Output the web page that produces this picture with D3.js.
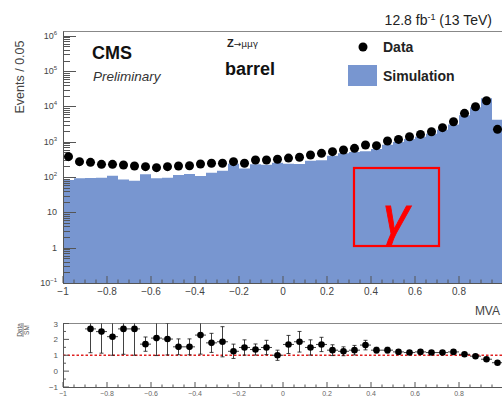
<!DOCTYPE html>
<html>
<head>
<meta charset="utf-8">
<script src="https://cdn.jsdelivr.net/npm/d3@7"></script>
<style>
  body { margin: 0; background: #fff; }
  text { font-family: "Liberation Sans", Arial, sans-serif; }
</style>
</head>
<body>
<div id="chart"></div>
<script>
// MVA bin centres (bin width 0.05)
const binCenters = [-0.975, -0.925, -0.875, -0.825, -0.775, -0.725, -0.675, -0.625, -0.575, -0.525,
                    -0.475, -0.425, -0.375, -0.325, -0.275, -0.225, -0.175, -0.125, -0.075, -0.025,
                     0.025,  0.075,  0.125,  0.175,  0.225,  0.275,  0.325,  0.375,  0.425,  0.475,
                     0.525,  0.575,  0.625,  0.675,  0.725,  0.775,  0.825,  0.875,  0.925,  0.975];
const dataCounts = [379, 273, 262, 230, 230, 220, 206, 197, 185, 197,
                    206, 210, 235, 246, 246, 273, 246, 305, 305, 319,
                    345, 364, 423, 471, 525, 586, 653, 811, 776, 1050,
                    1170, 1390, 1620, 1930, 2510, 3690, 6380, 9800, 14500, 2250];
const simCounts = [83, 92, 95, 96, 110, 86, 79, 120, 92, 96,
                   115, 122, 107, 133, 150, 240, 175, 230, 225, 255,
                   240, 235, 290, 300, 400, 470, 510, 540, 620, 820,
                   980, 1200, 1380, 1700, 2200, 3100, 5600, 9500, 17000, 4200];

// ratio panel (first two bins are off scale)
const ratioCenters = [-0.875, -0.825, -0.775, -0.725, -0.675, -0.625, -0.575, -0.525, -0.475, -0.425,
                      -0.375, -0.325, -0.275, -0.225, -0.175, -0.125, -0.075, -0.025,  0.025,  0.075,
                       0.125,  0.175,  0.225,  0.275,  0.325,  0.375,  0.425,  0.475,  0.525,  0.575,
                       0.625,  0.675,  0.725,  0.775,  0.825,  0.875,  0.925,  0.975];
const ratioValues = [2.66, 2.49, 2.17, 2.66, 2.66, 1.70, 2.08, 2.02, 1.53, 1.53,
                     2.27, 1.78, 1.85, 1.25, 1.49, 1.36, 1.49, 1.00, 1.68, 1.85,
                     1.49, 1.68, 1.32, 1.25, 1.32, 1.64, 1.32, 1.32, 1.21, 1.17,
                     1.21, 1.17, 1.17, 1.21, 1.06, 0.94, 0.75, 0.53];
const ratioErrors = [1.5, 1.36, 1.17, 1.6, 1.66, 0.45, 1.1, 1.0, 0.5, 0.5,
                     1.2, 0.6, 0.95, 0.45, 0.48, 0.35, 0.45, 0.32, 0.57, 0.65,
                     0.48, 0.45, 0.34, 0.28, 0.3, 0.3, 0.18, 0.18, 0.1, 0.08,
                     0.08, 0.06, 0.05, 0.05, 0.04, 0.03, 0.03, 0.03];

const xMajorTicks = [-1, -0.8, -0.6, -0.4, -0.2, 0, 0.2, 0.4, 0.6, 0.8];
const xTickLabels = ["\u22121", "\u22120.8", "\u22120.6", "\u22120.4", "\u22120.2", "0", "0.2", "0.4", "0.6", "0.8"];
const yMajorTicks = [0.1, 1, 10, 100, 1e3, 1e4, 1e5, 1e6];
const yTickBase = ["10", "1", "10", "10", "10", "10", "10", "10"];
const yTickExp = ["\u22121", "", "", "2", "3", "4", "5", "6"];
const ratioTicks = [-1, 0, 1, 2, 3];
const ratioTickLabels = ["\u22121", "0", "1", "2", "3"];

const W = 502, H = 397;
const svg = d3.select("#chart").append("svg").attr("width", W).attr("height", H);

const x = d3.scaleLinear().domain([-1, 1]).range([63, 503]);
const y = d3.scaleLog().domain([0.1, 1.33e6]).range([283, 31.5]);
const yr = d3.scaleLinear().domain([-1, 3]).range([387, 323.5]);

const half = 0.025;
const axisCol = "#555";
const labelCol = "#444";

svg.append("clipPath").attr("id", "mainClip")
  .append("rect").attr("x", 63).attr("y", 31.5).attr("width", W - 63).attr("height", 283 - 31.5);
svg.append("clipPath").attr("id", "ratioClip")
  .append("rect").attr("x", 63).attr("y", 323.5).attr("width", W - 63).attr("height", 387 - 323.5);

// ---------- main panel ----------
const main = svg.append("g");

// simulation histogram
const stepPts = binCenters.map((c, i) => [c - half, simCounts[i]]);
stepPts.push([binCenters[binCenters.length - 1] + half, simCounts[simCounts.length - 1]]);
main.append("path")
  .datum(stepPts)
  .attr("clip-path", "url(#mainClip)")
  .attr("fill", "#7896d0")
  .attr("d", d3.area().curve(d3.curveStepAfter).x(d => x(d[0])).y0(283).y1(d => y(d[1])));

// frame
main.append("line").attr("x1", 63).attr("x2", W).attr("y1", 31.5).attr("y2", 31.5).attr("stroke", "#888");
main.append("line").attr("x1", 63.5).attr("x2", 63.5).attr("y1", 31.5).attr("y2", 283).attr("stroke", axisCol);
main.append("line").attr("x1", 63).attr("x2", W).attr("y1", 283.5).attr("y2", 283.5).attr("stroke", axisCol);

// x ticks (inside)
const xMinor = d3.range(-1, 1.0001, 0.05).map(v => +v.toFixed(2));
main.selectAll(".xminor").data(xMinor).enter().append("line")
  .attr("x1", d => x(d)).attr("x2", d => x(d))
  .attr("y1", 283).attr("y2", d => xMajorTicks.some(t => Math.abs(t - d) < 1e-6) ? 276 : 279.5)
  .attr("stroke", axisCol);
main.selectAll(".xlab").data(xMajorTicks).enter().append("text")
  .attr("x", d => x(d)).attr("y", 295)
  .attr("text-anchor", "middle").attr("font-size", 10).attr("fill", labelCol)
  .text((d, i) => xTickLabels[i]);

// y ticks (log, inside)
const yMinor = [];
for (let e = -1; e <= 5; e++) for (let m = 1; m <= 9; m++) yMinor.push(m * Math.pow(10, e));
yMinor.push(1e6);
main.selectAll(".yminor").data(yMinor).enter().append("line")
  .attr("x1", 63).attr("x2", (d, i) => i % 9 === 0 ? 76 : 70)
  .attr("y1", d => Math.round(y(d)) + 0.5).attr("y2", d => Math.round(y(d)) + 0.5)
  .attr("stroke", axisCol);
const yl = main.selectAll(".ylab").data(yMajorTicks).enter().append("text")
  .attr("x", 57).attr("y", d => y(d) + 3)
  .attr("text-anchor", "end").attr("font-size", 9).attr("fill", labelCol);
yl.append("tspan").text((d, i) => yTickBase[i]);
yl.append("tspan").attr("dy", -4).attr("font-size", 6).text((d, i) => yTickExp[i]);

// data points
main.selectAll(".pt").data(binCenters).enter().append("circle")
  .attr("clip-path", "url(#mainClip)")
  .attr("cx", d => x(d)).attr("cy", (d, i) => y(dataCounts[i]))
  .attr("r", 4.5).attr("fill", "#000");

// titles
svg.append("text").attr("transform", "translate(24,77) rotate(-90)")
  .attr("text-anchor", "middle").attr("font-size", 12.5).attr("fill", labelCol).text("Events / 0.05");
svg.append("text").attr("x", 92).attr("y", 59).attr("font-size", 18).attr("font-weight", "bold").attr("fill", "#111").text("CMS");
svg.append("text").attr("x", 93).attr("y", 81).attr("font-size", 13.5).attr("font-style", "italic").attr("fill", "#333").text("Preliminary");
const zt = svg.append("text").attr("x", 227).attr("y", 47).attr("fill", "#222");
zt.append("tspan").attr("font-size", 11).attr("font-weight", "bold").text("Z");
zt.append("tspan").attr("font-size", 9).attr("font-family", "DejaVu Sans, sans-serif").text("\u2192\u03bc\u03bc\u03b3");
svg.append("text").attr("x", 225).attr("y", 75).attr("font-size", 18).attr("font-weight", "bold").attr("fill", "#111").text("barrel");
const lumi = svg.append("text").attr("x", 492).attr("y", 25).attr("text-anchor", "end").attr("font-size", 14).attr("fill", "#222");
lumi.append("tspan").text("12.8 fb");
lumi.append("tspan").attr("dy", -5).attr("font-size", 9).text("-1");
lumi.append("tspan").attr("dy", 5).text(" (13 TeV)");

// legend
svg.append("circle").attr("cx", 363).attr("cy", 47).attr("r", 4.5).attr("fill", "#000");
svg.append("text").attr("x", 383).attr("y", 52).attr("font-size", 14).attr("font-weight", "bold").attr("fill", "#222").text("Data");
svg.append("rect").attr("x", 348).attr("y", 65).attr("width", 29).attr("height", 21).attr("fill", "#7896d0");
svg.append("text").attr("x", 383).attr("y", 81).attr("font-size", 14).attr("font-weight", "bold").attr("fill", "#222").text("Simulation");

// red gamma box
svg.append("rect").attr("x", 354).attr("y", 168).attr("width", 85).attr("height", 78)
  .attr("fill", "none").attr("stroke", "#f00").attr("stroke-width", 2.2);
svg.append("text").attr("x", 396).attr("y", 234).attr("text-anchor", "middle")
  .attr("font-family", "Liberation Serif, Times New Roman, serif").attr("font-style", "italic")
  .attr("font-size", 52).attr("fill", "#f00").attr("stroke", "#f00").attr("stroke-width", 0.9)
  .text("\u03b3");

svg.append("text").attr("x", 500).attr("y", 315).attr("text-anchor", "end")
  .attr("font-size", 12).attr("fill", labelCol).text("MVA");

// ---------- ratio panel ----------
const rp = svg.append("g");
rp.append("line").attr("x1", 63).attr("x2", W).attr("y1", 323.5).attr("y2", 323.5).attr("stroke", "#888");
rp.append("line").attr("x1", 63.5).attr("x2", 63.5).attr("y1", 323.5).attr("y2", 387).attr("stroke", axisCol);
rp.append("line").attr("x1", 63).attr("x2", W).attr("y1", 387.5).attr("y2", 387.5).attr("stroke", axisCol);

rp.append("line").attr("x1", 63).attr("x2", W).attr("y1", yr(1)).attr("y2", yr(1))
  .attr("stroke", "#e02020").attr("stroke-width", 1.5).attr("stroke-dasharray", "2.5,2");

rp.selectAll(".rxminor").data(xMinor).enter().append("line")
  .attr("x1", d => x(d)).attr("x2", d => x(d))
  .attr("y1", 387).attr("y2", d => xMajorTicks.some(t => Math.abs(t - d) < 1e-6) ? 382 : 384.5)
  .attr("stroke", axisCol);
rp.selectAll(".rxlab").data(xMajorTicks).enter().append("text")
  .attr("x", d => x(d)).attr("y", 396)
  .attr("text-anchor", "middle").attr("font-size", 7).attr("fill", "#666")
  .text((d, i) => xTickLabels[i]);

const ryMinor = d3.range(-1, 3.001, 0.5);
rp.selectAll(".ryminor").data(ryMinor).enter().append("line")
  .attr("x1", 63).attr("x2", d => Number.isInteger(d) ? 69 : 66)
  .attr("y1", d => yr(d)).attr("y2", d => yr(d)).attr("stroke", axisCol);
rp.selectAll(".rylab").data(ratioTicks).enter().append("text")
  .attr("x", 58).attr("y", d => yr(d) + 3)
  .attr("text-anchor", "end").attr("font-size", 8).attr("fill", "#555")
  .text((d, i) => ratioTickLabels[i]);

const frac = svg.append("g").attr("transform", "translate(23,330) rotate(-90)");
frac.append("text").attr("y", -1.5).attr("text-anchor", "middle").attr("font-size", 6.5).attr("fill", "#555").text("Data");
frac.append("line").attr("x1", -7).attr("x2", 7).attr("y1", 0).attr("y2", 0).attr("stroke", "#555").attr("stroke-width", 0.7);
frac.append("text").attr("y", 6).attr("text-anchor", "middle").attr("font-size", 6.5).attr("fill", "#555").text("SM");

const rg = rp.append("g").attr("clip-path", "url(#ratioClip)");
const rdat = ratioCenters.map((c, i) => ({ c, v: ratioValues[i], e: ratioErrors[i] }));
rg.selectAll(".rv").data(rdat).enter().append("line")
  .attr("x1", d => x(d.c)).attr("x2", d => x(d.c))
  .attr("y1", d => yr(d.v + d.e)).attr("y2", d => yr(d.v - d.e))
  .attr("stroke", "#111").attr("stroke-width", 0.8);
rg.selectAll(".rh").data(rdat).enter().append("line")
  .attr("x1", d => x(d.c - half)).attr("x2", d => x(d.c + half))
  .attr("y1", d => yr(d.v)).attr("y2", d => yr(d.v))
  .attr("stroke", "#111").attr("stroke-width", 0.8);
["top", "bot"].forEach(k => {
  rg.selectAll(".cap" + k).data(rdat).enter().append("line")
    .attr("x1", d => x(d.c) - 2).attr("x2", d => x(d.c) + 2)
    .attr("y1", d => yr(k === "top" ? d.v + d.e : d.v - d.e))
    .attr("y2", d => yr(k === "top" ? d.v + d.e : d.v - d.e))
    .attr("stroke", "#111").attr("stroke-width", 0.8);
});
rg.selectAll(".rp").data(rdat).enter().append("circle")
  .attr("cx", d => x(d.c)).attr("cy", d => yr(d.v))
  .attr("r", 3.3).attr("fill", "#000");
</script>
</body>
</html>
